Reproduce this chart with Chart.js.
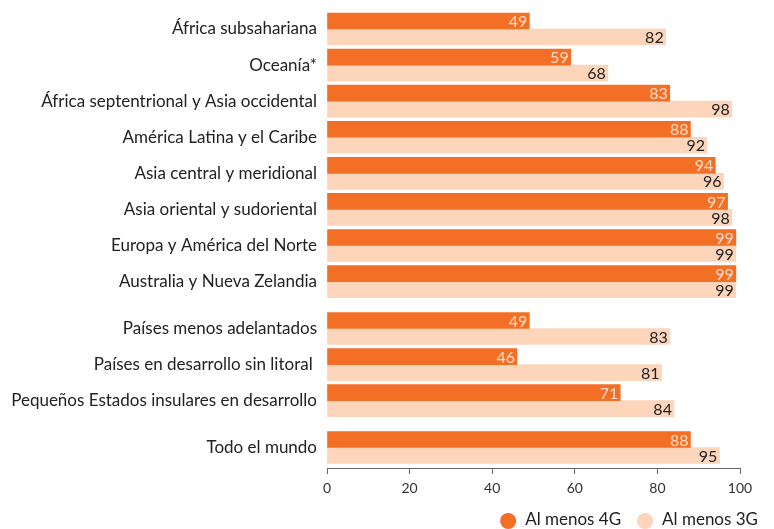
<!DOCTYPE html>
<html>
<head>
<meta charset="utf-8">
<script src="https://cdn.jsdelivr.net/npm/chart.js@4"></script>
<style>
  body { margin: 0; background: #fff; }
  #wrap { width: 774px; height: 529px; }
</style>
</head>
<body>
<div id="wrap"><canvas id="chart"></canvas></div>
<script>
// Rows, top to bottom
var categories = [
    'África subsahariana',
    'Oceanía*',
    'África septentrional y Asia occidental',
    'América Latina y el Caribe',
    'Asia central y meridional',
    'Asia oriental y sudoriental',
    'Europa y América del Norte',
    'Australia y Nueva Zelandia',
    'Países menos adelantados',
    'Países en desarrollo sin litoral ',
    'Pequeños Estados insulares en desarrollo',
    'Todo el mundo'
];
// which block each row belongs to (regions / country groups / world)
var rowGroup = [0, 0, 0, 0, 0, 0, 0, 0, 1, 1, 1, 2];
var at4G = [49, 59, 83, 88, 94, 97, 99, 99, 49, 46, 71, 88];
var at3G = [82, 68, 98, 92, 96, 98, 99, 99, 83, 81, 84, 95];
var xTicks = [0, 20, 40, 60, 80, 100];
var seriesNames = ['Al menos 4G', 'Al menos 3G'];

var GROUP_GAP = 0.3;  // extra space between blocks, in rows
var FONT = 'Lato, "Open Sans", sans-serif';
var rowPos = categories.map(function (c, i) { return i + rowGroup[i] * GROUP_GAP; });

function toPoints(values) {
    return values.map(function (v, i) { return { x: v, y: rowPos[i] }; });
}

// value labels drawn inside the end of each bar
var barValueLabels = {
    id: 'barValueLabels',
    afterDatasetsDraw: function (chart) {
        var ctx = chart.ctx;
        ctx.save();
        ctx.font = '16px ' + FONT;
        ctx.textAlign = 'right';
        ctx.textBaseline = 'middle';
        chart.data.datasets.forEach(function (ds, di) {
            chart.getDatasetMeta(di).data.forEach(function (bar, i) {
                ctx.fillStyle = ds.valueColor;
                ctx.fillText(ds.data[i].x, bar.x - 2, bar.y + 1);
            });
        });
        ctx.restore();
    }
};

// legend at the bottom right, round markers
var bottomLegend = {
    id: 'bottomLegend',
    afterDraw: function (chart) {
        var ctx = chart.ctx;
        var y = 520, right = 758, r = 8, gap = 9, spacing = 16;
        ctx.save();
        ctx.font = '17px ' + FONT;
        ctx.textBaseline = 'middle';
        ctx.textAlign = 'left';
        var items = chart.data.datasets.slice().reverse();
        var x = right;
        items.forEach(function (ds) {
            var w = ctx.measureText(ds.label).width;
            var textX = x - w;
            var cx = textX - gap - r;
            ctx.fillStyle = '#222';
            ctx.fillText(ds.label, textX, y);
            ctx.fillStyle = ds.backgroundColor;
            ctx.beginPath();
            ctx.arc(cx, y + 1, r, 0, Math.PI * 2);
            ctx.fill();
            x = cx - r - spacing;
        });
        ctx.restore();
    }
};

var ctx = document.getElementById('chart').getContext('2d');
var chart = new Chart(ctx, {
    type: 'bar',
    data: {
        datasets: [{
            label: seriesNames[0],
            data: toPoints(at4G),
            backgroundColor: '#F36F26',
            valueColor: '#FCDCC8'
        }, {
            label: seriesNames[1],
            data: toPoints(at3G),
            backgroundColor: '#FDD5BA',
            valueColor: '#222'
        }]
    },
    options: {
        indexAxis: 'y',
        responsive: true,
        maintainAspectRatio: false,
        animation: false,
        barThickness: 16,
        layout: { padding: { top: 0, right: 34, bottom: 31, left: 0 } },
        plugins: {
            legend: { display: false },
            tooltip: { enabled: false }
        },
        scales: {
            x: {
                type: 'linear',
                min: 0,
                max: 100,
                afterBuildTicks: function (scale) {
                    scale.ticks = xTicks.map(function (v) { return { value: v }; });
                },
                afterFit: function (scale) { scale.height = 30; },
                grid: { drawOnChartArea: false, drawTicks: true, tickLength: 6, color: '#666' },
                border: { display: true, color: '#666', width: 1 },
                ticks: { padding: 6, color: '#333', font: { family: FONT, size: 14 } }
            },
            y: {
                type: 'linear',
                reverse: true,
                offset: false,
                min: -0.804,
                max: 12.167,
                afterBuildTicks: function (scale) {
                    scale.ticks = rowPos.map(function (v) { return { value: v }; });
                },
                afterFit: function (scale) {
                    scale.width = 327;
                    scale.paddingTop = 0;
                    scale.paddingBottom = 0;
                },
                grid: { display: false, drawTicks: false },
                border: { display: false },
                ticks: {
                    autoSkip: false,
                    padding: 10,
                    color: '#222',
                    font: { family: FONT, size: 17 },
                    callback: function (value, i) { return categories[i]; }
                }
            }
        }
    },
    plugins: [barValueLabels, bottomLegend]
});
</script>
</body>
</html>
